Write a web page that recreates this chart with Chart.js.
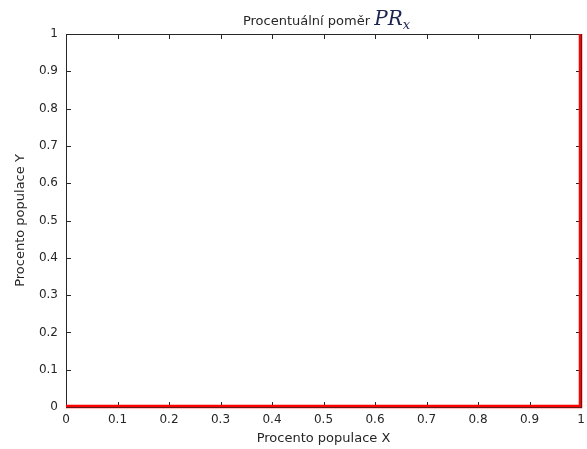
<!DOCTYPE html>
<html>
<head>
<meta charset="utf-8">
<script src="https://cdn.jsdelivr.net/npm/chart.js@4/dist/chart.umd.min.js"></script>
<style>
  html, body { margin: 0; padding: 0; background: #fff; }
  #wrap { width: 587px; height: 449px; position: relative; }
</style>
</head>
<body>
<div id="wrap"><canvas id="chart" width="587" height="449"></canvas></div>
<script>
// --- DATA ---
const xValues = [0, 1, 1];
const yValues = [0, 0, 1];
const xTicks = [0, 0.1, 0.2, 0.3, 0.4, 0.5, 0.6, 0.7, 0.8, 0.9, 1];
const yTicks = [0, 0.1, 0.2, 0.3, 0.4, 0.5, 0.6, 0.7, 0.8, 0.9, 1];
const titleText = 'Procentuální poměr ';
const xTitle = 'Procento populace X';
const yTitle = 'Procento populace Y';

const FONT = '"DejaVu Sans", "Liberation Sans", sans-serif';
const MATH = '"DejaVu Serif", "Liberation Serif", serif';
const AXIS_COLOR = '#262626';

// box with inward ticks, like matlab axes
const boxPlugin = {
    id: 'box',
    afterDatasetsDraw(chart) {
        const { ctx, chartArea: a, scales } = chart;
        ctx.save();
        ctx.strokeStyle = AXIS_COLOR;
        ctx.lineWidth = 1;
        ctx.beginPath();
        ctx.rect(Math.round(a.left) + 0.5, Math.round(a.top) + 0.5,
                 Math.round(a.right - a.left), Math.round(a.bottom - a.top));
        const len = 5;
        xTicks.forEach(v => {
            const px = Math.round(scales.x.getPixelForValue(v)) + 0.5;
            ctx.moveTo(px, a.bottom); ctx.lineTo(px, a.bottom - len);
            ctx.moveTo(px, a.top); ctx.lineTo(px, a.top + len);
        });
        yTicks.forEach(v => {
            const py = Math.round(scales.y.getPixelForValue(v)) + 0.5;
            ctx.moveTo(a.left, py); ctx.lineTo(a.left + len, py);
            ctx.moveTo(a.right, py); ctx.lineTo(a.right - len, py);
        });
        ctx.stroke();

        // redraw the line on top so it sits over the axes
        const meta = chart.getDatasetMeta(0);
        ctx.strokeStyle = '#ff0000';
        ctx.lineWidth = 2.5;
        ctx.beginPath();
        meta.data.forEach((p, i) => {
            if (i === 0) ctx.moveTo(p.x, p.y - 1); else ctx.lineTo(p.x - 1, p.y - (i === 1 ? 1 : 0));
        });
        ctx.stroke();

        // title with math part
        const cx = (a.left + a.right) / 2 + 3;
        ctx.textBaseline = 'alphabetic';
        ctx.font = '13px ' + FONT;
        const w1 = ctx.measureText(titleText).width;
        ctx.font = 'italic 20px ' + MATH;
        const w2 = ctx.measureText('PR').width;
        ctx.font = 'italic 13px ' + MATH;
        const w3 = ctx.measureText('x').width;
        const x0 = cx - (w1 + w2 + w3) / 2;
        const base = 25;
        ctx.fillStyle = AXIS_COLOR;
        ctx.textAlign = 'left';
        ctx.font = '13px ' + FONT;
        ctx.fillText(titleText, x0, base);
        ctx.fillStyle = '#1c2450';
        ctx.font = 'italic 20px ' + MATH;
        ctx.fillText('PR', x0 + w1, base);
        ctx.font = 'italic 13px ' + MATH;
        ctx.fillText('x', x0 + w1 + w2, base + 4);
        ctx.restore();
    }
};

const points = xValues.map((x, i) => ({ x, y: yValues[i] }));

new Chart(document.getElementById('chart'), {
    type: 'scatter',
    data: {
        datasets: [{
            data: points,
            showLine: true,
            borderColor: '#ff0000',
            borderWidth: 2.5,
            pointRadius: 0,
            clip: false
        }]
    },
    options: {
        responsive: false,
        animation: false,
        layout: { padding: { top: 34, right: 6, left: 13, bottom: 0 } },
        plugins: { legend: { display: false }, tooltip: { enabled: false } },
        scales: {
            x: {
                type: 'linear', min: 0, max: 1,
                afterBuildTicks: s => { s.ticks = xTicks.map(v => ({ value: v })); },
                afterFit: s => { s.height = 42; s.paddingLeft = 0; s.paddingRight = 0; },
                grid: { display: false, drawTicks: false },
                border: { display: false },
                ticks: {
                    color: AXIS_COLOR, padding: 6, maxRotation: 0,
                    font: { family: FONT, size: 12 },
                    callback: v => String(+v.toFixed(1))
                },
                title: {
                    display: true, text: xTitle, color: AXIS_COLOR, padding: { top: 0, bottom: 3 },
                    font: { family: FONT, size: 13 }
                }
            },
            y: {
                type: 'linear', min: 0, max: 1,
                afterBuildTicks: s => { s.ticks = yTicks.map(v => ({ value: v })); },
                afterFit: s => { s.width = 53; s.paddingTop = 0; s.paddingBottom = 0; },
                grid: { display: false, drawTicks: false },
                border: { display: false },
                ticks: {
                    color: AXIS_COLOR, padding: 8,
                    font: { family: FONT, size: 12 },
                    callback: v => String(+v.toFixed(1))
                },
                title: {
                    display: true, text: yTitle, color: AXIS_COLOR, padding: { top: 0, bottom: 0 },
                    font: { family: FONT, size: 13 }
                }
            }
        }
    },
    plugins: [boxPlugin]
});
</script>
</body>
</html>
